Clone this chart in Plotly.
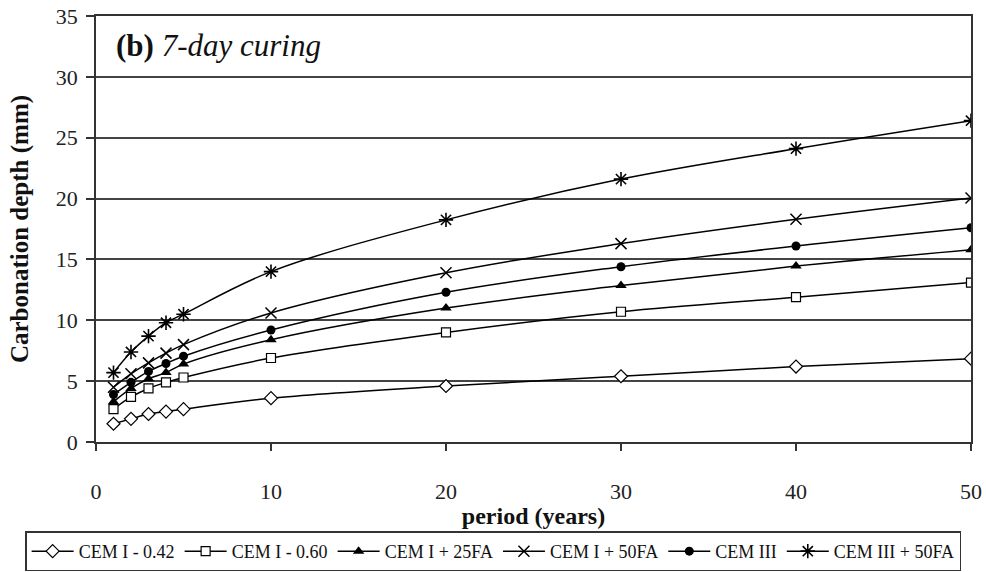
import plotly.graph_objects as go

# Exposure period (years) at which carbonation depth was evaluated
years = [1, 2, 3, 4, 5, 10, 20, 30, 40, 50]

# Carbonation depth (mm) per mix, 7-day curing
cem1_042 = [1.5, 1.9, 2.3, 2.5, 2.7, 3.6, 4.6, 5.4, 6.2, 6.85]
cem1_060 = [2.7, 3.7, 4.4, 4.9, 5.3, 6.9, 9.0, 10.7, 11.9, 13.1]
cem1_25fa = [3.3, 4.4, 5.2, 5.7, 6.4, 8.4, 11.0, 12.85, 14.45, 15.8]
cem1_50fa = [4.5, 5.6, 6.5, 7.3, 8.0, 10.6, 13.9, 16.3, 18.3, 20.05]
cem3 = [3.9, 4.9, 5.8, 6.45, 7.05, 9.2, 12.3, 14.4, 16.1, 17.6]
cem3_50fa = [5.7, 7.4, 8.7, 9.8, 10.5, 14.0, 18.25, 21.6, 24.1, 26.4]

series = [
    ("CEM I - 0.42", cem1_042, dict(symbol="diamond", size=10, color="white",
                                    line=dict(color="black", width=1.2))),
    ("CEM I - 0.60", cem1_060, dict(symbol="square", size=9, color="white",
                                    line=dict(color="black", width=1.2))),
    ("CEM I + 25FA", cem1_25fa, dict(symbol="triangle-up", size=10, color="black",
                                     line=dict(color="black", width=0))),
    ("CEM I + 50FA", cem1_50fa, dict(symbol="x-thin-open", size=11, color="black",
                                     line=dict(color="black", width=1.5))),
    ("CEM III", cem3, dict(symbol="circle", size=9, color="black",
                           line=dict(color="black", width=0))),
    ("CEM III + 50FA", cem3_50fa, dict(symbol="asterisk-open", size=12, color="black",
                                       line=dict(color="black", width=1.6))),
]

FONT = "Liberation Serif, Times New Roman, serif"

fig = go.Figure()
for name, vals, marker in series:
    fig.add_trace(go.Scatter(
        x=years, y=vals, name=name, mode="lines+markers",
        line=dict(color="black", width=1.5, shape="spline", smoothing=1),
        marker=marker,
    ))

fig.update_layout(
    width=986, height=572,
    margin=dict(l=96, r=15, t=16, b=130, autoexpand=False),
    paper_bgcolor="white", plot_bgcolor="white",
    font=dict(family=FONT, color="#111", size=20),
    showlegend=True,
    legend=dict(
        orientation="h", xref="paper", yref="paper",
        x=-0.081, xanchor="left", y=-0.21, yanchor="top",
        font=dict(family=FONT, size=18, color="#111"),
        bordercolor="#333", borderwidth=1.5, bgcolor="white",
        itemwidth=42, tracegroupgap=0,
    ),
    annotations=[dict(
        xref="paper", yref="paper", x=0.021, y=0.93,
        xanchor="left", yanchor="middle", showarrow=False,
        text="<b>(b)</b> <i>7-day curing</i>",
        font=dict(family=FONT, size=31, color="#111"),
    )],
)

fig.update_xaxes(
    range=[0, 50], dtick=10, tick0=0, automargin=False,
    showgrid=False, zeroline=False,
    showline=True, linecolor="#333", linewidth=1.5, mirror=True,
    ticks="outside", ticklen=7, tickcolor="#333", tickwidth=1.5,
    ticklabelstandoff=22,
    tickfont=dict(family=FONT, size=22, color="#222"),
    title=dict(text="<b>period (years)</b>", standoff=4,
               font=dict(family=FONT, size=24, color="#111")),
)
fig.update_yaxes(
    range=[0, 35], dtick=5, tick0=0, automargin=False,
    showgrid=True, gridcolor="#444", gridwidth=1.6,
    zeroline=False,
    showline=True, linecolor="#333", linewidth=1.5, mirror=True,
    ticks="outside", ticklen=8, tickcolor="#333", tickwidth=1.5,
    ticklabelstandoff=4,
    tickfont=dict(family=FONT, size=22, color="#222"),
    title=dict(text="<b>Carbonation depth (mm)</b>", standoff=20,
               font=dict(family=FONT, size=25, color="#111")),
)

fig.write_html("out.html")
